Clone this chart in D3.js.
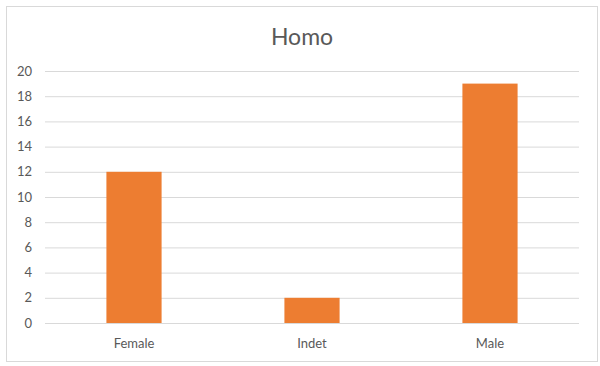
<!DOCTYPE html>
<html lang="en">
<head>
<meta charset="utf-8">
<title>Homo</title>
<script src="https://d3js.org/d3.v7.min.js"></script>
<style>
  body { margin: 0; background: #ffffff; }
  text { font-family: Lato, "Open Sans", sans-serif; fill: #595959; }
</style>
</head>
<body>
<div id="chart"></div>
<script>
// data
var categories = ["Female", "Indet", "Male"];
var counts = [12, 2, 19];
var yTicks = [0, 2, 4, 6, 8, 10, 12, 14, 16, 18, 20];

var W = 600, H = 366;
var margin = {top: 71, right: 21, bottom: 43, left: 45};
var width = W - margin.left - margin.right,
    height = H - margin.top - margin.bottom;

var svg = d3.select("#chart").append("svg")
    .attr("width", W)
    .attr("height", H);

// outer frame
svg.append("rect")
  .attr("x", 6.5).attr("y", 6.5)
  .attr("width", 591).attr("height", 355)
  .attr("fill", "#fff")
  .attr("stroke", "#d9d9d9");

// title
svg.append("text")
  .attr("x", 302).attr("y", 45)
  .attr("text-anchor", "middle")
  .style("font-size", "23px")
  .text("Homo");

var g = svg.append("g")
  .attr("transform", "translate(" + margin.left + "," + margin.top + ")");

var x = d3.scaleBand()
  .domain(categories)
  .range([0, width])
  .paddingInner(0.69)
  .paddingOuter(0.345);

var y = d3.scaleLinear()
  .domain([0, 20])
  .range([height, 0]);

// gridlines + y labels
var yAxis = g.append("g")
  .call(d3.axisLeft(y).tickValues(yTicks).tickSize(-width).tickPadding(13));
yAxis.select(".domain").remove();
yAxis.selectAll(".tick line").attr("stroke", "#d9d9d9");
yAxis.selectAll(".tick text").style("font-size", "13px");

// bars
g.selectAll(".bar")
  .data(counts)
  .enter().append("rect")
    .attr("class", "bar")
    .attr("x", function(d, i) { return x(categories[i]); })
    .attr("y", function(d) { return y(d); })
    .attr("width", x.bandwidth())
    .attr("height", function(d) { return height - y(d); })
    .attr("fill", "#ed7d31");

// x labels
var xAxis = g.append("g")
  .attr("transform", "translate(0," + height + ")")
  .call(d3.axisBottom(x).tickSize(0).tickPadding(16));
xAxis.select(".domain").remove();
xAxis.selectAll(".tick text").style("font-size", "13px");
</script>
</body>
</html>
